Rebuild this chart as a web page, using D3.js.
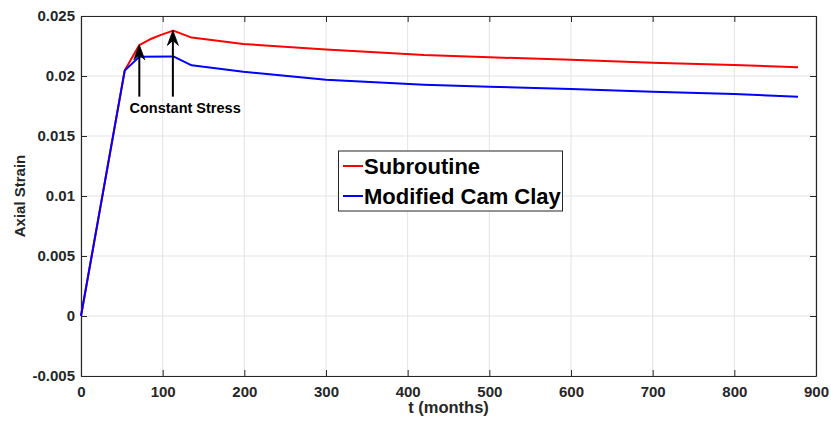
<!DOCTYPE html>
<html>
<head>
<meta charset="utf-8">
<script src="https://cdn.jsdelivr.net/npm/d3@7"></script>
<style>
  html, body { margin: 0; padding: 0; background: #fff; }
  svg text { font-family: Arial, "Liberation Sans", Helvetica, sans-serif; font-weight: bold; }
</style>
</head>
<body>
<svg id="chart" width="831" height="427"></svg>
<script>
// ---- data ----
const tSubroutine = [0, 53.5, 71.4, 84.5, 98.8, 113, 135.5, 198.8, 300, 420, 500, 600, 700, 800, 878];
const subroutine  = [0, 0.02045, 0.02258, 0.02306, 0.02345, 0.02378, 0.0232, 0.02267, 0.0222, 0.02174, 0.02156, 0.02135, 0.02111, 0.02092, 0.02072];
const tMCC = [0, 53.5, 71.4, 113, 135.5, 198.8, 300, 420, 500, 600, 700, 800, 878];
const mcc  = [0, 0.02045, 0.02161, 0.02163, 0.02089, 0.02036, 0.01968, 0.01927, 0.01911, 0.01891, 0.01869, 0.0185, 0.01828];
const seriesNames = ["Subroutine", "Modified Cam Clay"];
const seriesColors = ["#ff0000", "#0000ff"];
const xTicks = [0, 100, 200, 300, 400, 500, 600, 700, 800, 900];
const yTicks = [-0.005, 0, 0.005, 0.01, 0.015, 0.02, 0.025];
const yTickLabels = ["-0.005", "0", "0.005", "0.01", "0.015", "0.02", "0.025"];
const arrowT = [71.4, 112.5];
const arrowTip = [0.0226, 0.0238];
const arrowBase = 0.01828;
const annotationText = "Constant Stress";
const annotationPos = [127.5, 0.0169];

// ---- layout ----
const svg = d3.select("#chart");
const L = 81, R = 816, T = 16, B = 376;
const x = d3.scaleLinear().domain([0, 900]).range([L, R]);
const y = d3.scaleLinear().domain([-0.005, 0.025]).range([B, T]);
const axisColor = "#262626";

// grid
const grid = svg.append("g");
grid.selectAll("line.gx").data(xTicks).enter().append("line")
  .attr("x1", d => x(d)).attr("x2", d => x(d)).attr("y1", T).attr("y2", B)
  .attr("stroke", "#e3e3e3").attr("stroke-width", 1);
grid.selectAll("line.gy").data(yTicks).enter().append("line")
  .attr("y1", d => y(d)).attr("y2", d => y(d)).attr("x1", L).attr("x2", R)
  .attr("stroke", "#e3e3e3").attr("stroke-width", 1);

// axes (inward ticks)
const tickLen = 6;
const axBottom = svg.append("g").attr("transform", `translate(0,${B})`)
  .call(d3.axisBottom(x).tickValues(xTicks).tickSizeInner(-tickLen).tickSizeOuter(0).tickPadding(10).tickFormat(d3.format("d")));
const axTop = svg.append("g").attr("transform", `translate(0,${T})`)
  .call(d3.axisTop(x).tickValues(xTicks).tickSizeInner(-tickLen).tickSizeOuter(0).tickFormat(""));
const axLeft = svg.append("g").attr("transform", `translate(${L},0)`)
  .call(d3.axisLeft(y).tickValues(yTicks).tickSizeInner(-tickLen).tickSizeOuter(0).tickPadding(6).tickFormat((d, i) => yTickLabels[i]));
const axRight = svg.append("g").attr("transform", `translate(${R},0)`)
  .call(d3.axisRight(y).tickValues(yTicks).tickSizeInner(-tickLen).tickSizeOuter(0).tickFormat(""));
[axBottom, axTop, axLeft, axRight].forEach(g => {
  g.select(".domain").attr("stroke", axisColor).attr("stroke-width", 1.2);
  g.selectAll(".tick line").attr("stroke", axisColor).attr("stroke-width", 1);
  g.selectAll(".tick text").attr("fill", axisColor).style("font-size", "15px")
    .style("font-family", "Arial, 'Liberation Sans', sans-serif").style("font-weight", "bold");
});

// axis labels
svg.append("text").attr("x", (L + R) / 2).attr("y", 413).attr("text-anchor", "middle")
  .attr("fill", axisColor).style("font-size", "16.5px").text("t (months)");
svg.append("text").attr("transform", `translate(25,${(T + B) / 2}) rotate(-90)`).attr("text-anchor", "middle")
  .attr("fill", axisColor).style("font-size", "15px").text("Axial Strain");

// lines
const line = d3.line().x(d => x(d[0])).y(d => y(d[1]));
const series = [
  d3.zip(tSubroutine, subroutine),
  d3.zip(tMCC, mcc)
];
svg.append("path").datum(series[0]).attr("d", line).attr("fill", "none")
  .attr("stroke", seriesColors[0]).attr("stroke-width", 2).attr("stroke-linejoin", "round");
svg.append("path").datum(series[1]).attr("d", line).attr("fill", "none")
  .attr("stroke", seriesColors[1]).attr("stroke-width", 2).attr("stroke-linejoin", "round");

// annotation arrows
arrowT.forEach((t, i) => {
  const ax = x(t), ay0 = y(arrowBase), ay1 = y(arrowTip[i]);
  svg.append("line").attr("x1", ax).attr("x2", ax).attr("y1", ay0).attr("y2", ay1 + 8)
    .attr("stroke", "#000").attr("stroke-width", 2);
  svg.append("path")
    .attr("d", `M${ax},${ay1} L${ax - 5.5},${ay1 + 15} L${ax},${ay1 + 10} L${ax + 5.5},${ay1 + 15} Z`)
    .attr("fill", "#000").attr("stroke", "#000").attr("stroke-width", 0.8).attr("stroke-linejoin", "miter");
});
svg.append("text").attr("x", x(annotationPos[0])).attr("y", y(annotationPos[1]))
  .attr("text-anchor", "middle").attr("fill", "#000").style("font-size", "14.5px").text(annotationText);

// legend
const lg = svg.append("g");
lg.append("rect").attr("x", 338.5).attr("y", 151).attr("width", 224).attr("height", 60)
  .attr("fill", "#fff").attr("stroke", "#262626").attr("stroke-width", 1);
seriesNames.forEach((name, i) => {
  const ly = 166 + i * 30;
  lg.append("line").attr("x1", 343).attr("x2", 363).attr("y1", ly).attr("y2", ly)
    .attr("stroke", seriesColors[i]).attr("stroke-width", 2);
  lg.append("text").attr("x", 364).attr("y", ly + 7.5).attr("fill", "#000")
    .style("font-size", "22px").text(name);
});
</script>
</body>
</html>
